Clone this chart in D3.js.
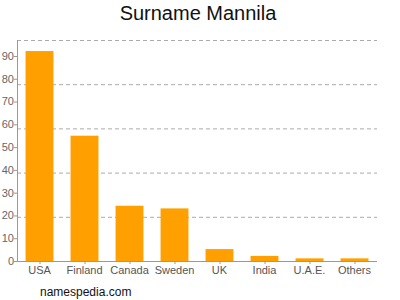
<!DOCTYPE html>
<html>
<head>
<meta charset="utf-8">
<script src="https://cdn.jsdelivr.net/npm/d3@7"></script>
<style>
  body { margin: 0; background: #fff; }
  svg { display: block; font-family: "Liberation Sans", Arial, sans-serif; }
</style>
</head>
<body>
<div id="chart"></div>
<script>
const countries = ["USA", "Finland", "Canada", "Sweden", "UK", "India", "U.A.E.", "Others"];
const counts = [95, 56.7, 25, 23.8, 5.4, 2.3, 1.2, 1.2];
const tickLabels = [0, 10, 20, 30, 40, 50, 60, 70, 80, 90];
const gridValues = [20, 40, 60, 80, 100];

const width = 400, height = 300;
const plotLeft = 17, plotRight = 377, plotTop = 40, plotBottom = 261;

const svg = d3.select("#chart").append("svg")
    .attr("width", width)
    .attr("height", height);

const x = d3.scaleBand()
    .domain(countries)
    .range([plotLeft, plotRight])
    .paddingInner(0.38)
    .paddingOuter(0.19);

const y = d3.scaleLinear().domain([0, 100]).range([plotBottom, plotTop]);
// tick labels drift a little from the grid in the original
const yLabel = d3.scaleLinear().domain([0, 90]).range([plotBottom, 56]);

// Title
svg.append("text")
    .attr("x", 198).attr("y", 20)
    .attr("text-anchor", "middle")
    .attr("font-size", 20)
    .attr("fill", "#111")
    .text("Surname Mannila");

// Grid lines
svg.append("g").selectAll("line")
    .data(gridValues)
    .enter().append("line")
    .attr("x1", plotLeft).attr("x2", plotRight)
    .attr("y1", d => y(d) + 0.5).attr("y2", d => y(d) + 0.5)
    .attr("stroke", "#aaa")
    .attr("stroke-dasharray", "4,3");

// Bars
svg.append("g").selectAll("rect")
    .data(countries)
    .enter().append("rect")
    .attr("x", d => x(d))
    .attr("y", (d, i) => y(counts[i]))
    .attr("width", x.bandwidth())
    .attr("height", (d, i) => plotBottom - y(counts[i]))
    .attr("fill", "#ffa000");

// Y axis
svg.append("line")
    .attr("x1", plotLeft + 0.5).attr("x2", plotLeft + 0.5)
    .attr("y1", plotTop).attr("y2", plotBottom)
    .attr("stroke", "#999");

const yTicks = svg.append("g").selectAll("g")
    .data(tickLabels)
    .enter().append("g")
    .attr("transform", d => `translate(0,${yLabel(d)})`);

yTicks.append("line")
    .attr("x1", plotLeft - 3).attr("x2", plotLeft)
    .attr("y1", 0.5).attr("y2", 0.5)
    .attr("stroke", "#999");

yTicks.append("text")
    .attr("x", plotLeft - 3)
    .attr("dy", "0.35em")
    .attr("text-anchor", "end")
    .attr("font-size", 11)
    .attr("fill", "#666")
    .text(d => d);

// X axis
svg.append("line")
    .attr("x1", plotLeft).attr("x2", plotRight)
    .attr("y1", plotBottom + 0.5).attr("y2", plotBottom + 0.5)
    .attr("stroke", "#999");

const xTicks = svg.append("g").selectAll("g")
    .data(countries)
    .enter().append("g")
    .attr("transform", d => `translate(${x(d) + x.bandwidth() / 2},${plotBottom})`);

xTicks.append("line")
    .attr("x1", 0.5).attr("x2", 0.5)
    .attr("y1", 0).attr("y2", 3)
    .attr("stroke", "#999");

xTicks.append("text")
    .attr("y", 13)
    .attr("text-anchor", "middle")
    .attr("font-size", 11)
    .attr("fill", "#555")
    .text(d => d);

// Footer
svg.append("text")
    .attr("x", 40).attr("y", 296)
    .attr("font-size", 12)
    .attr("fill", "#111")
    .text("namespedia.com");
</script>
</body>
</html>
